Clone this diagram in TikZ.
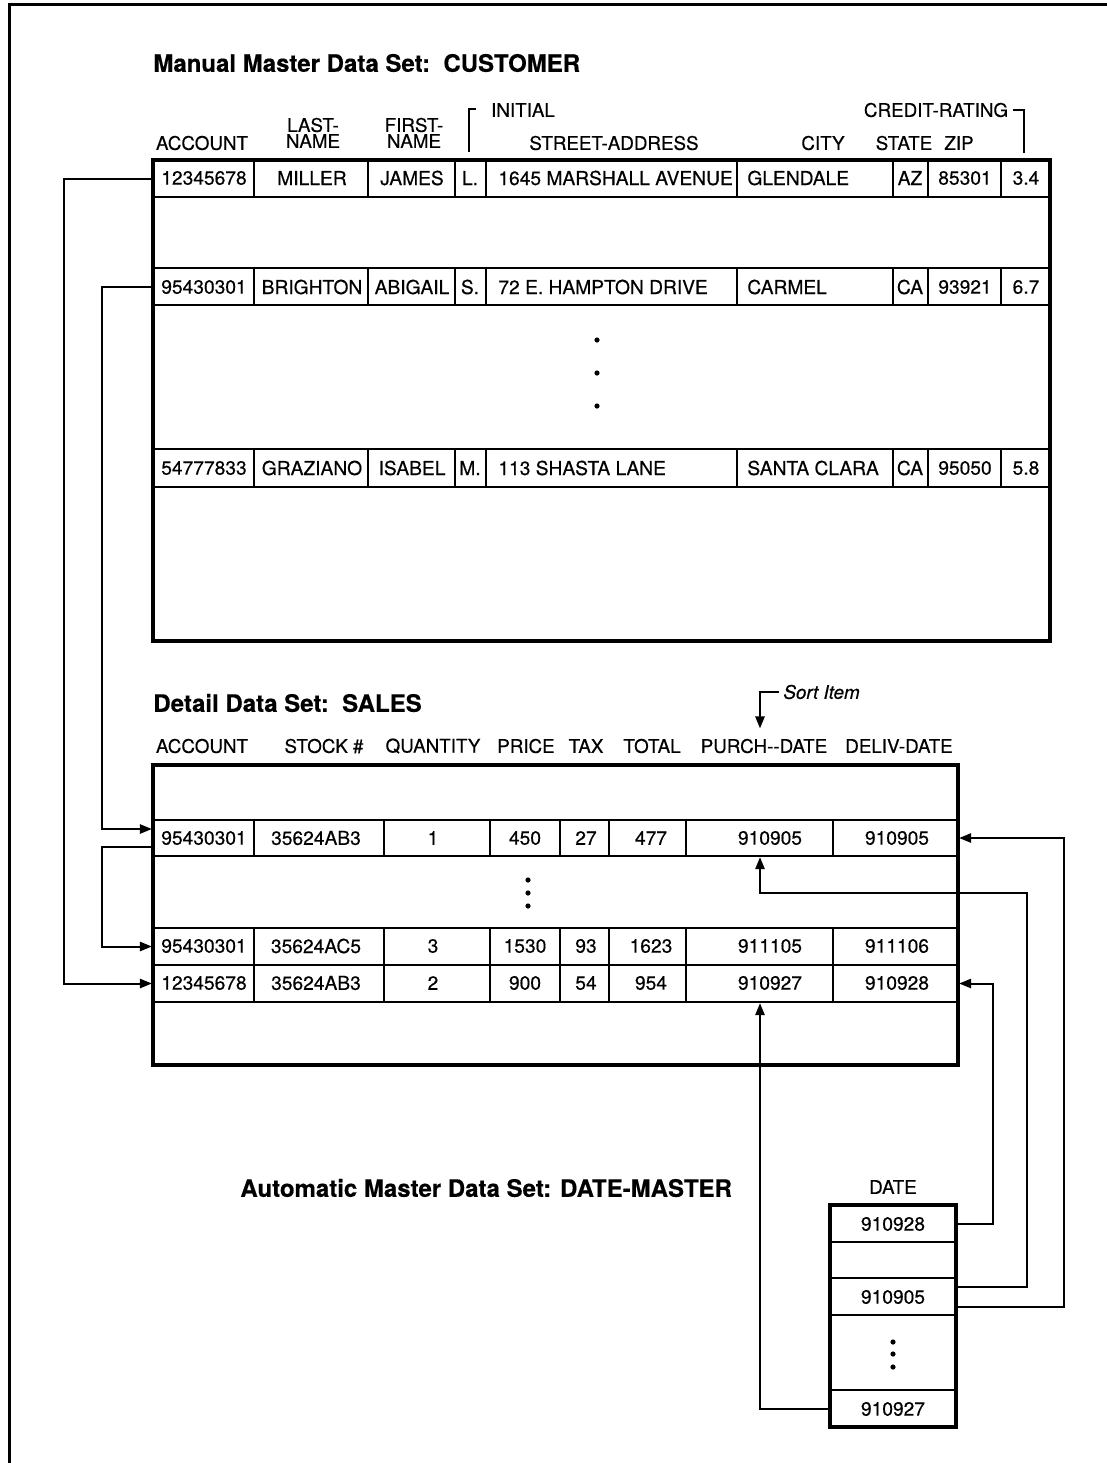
\documentclass[tikz,border=0pt]{standalone}
\usepackage{fontspec}
\setmainfont{TeX Gyre Heros}[FakeBold=0.4]
\usetikzlibrary{arrows.meta,fit}

\tikzset{
  title/.style={anchor=west,inner sep=0pt,font=\fontsize{12}{14}\selectfont\bfseries},
  head/.style={inner sep=0pt,font=\fontsize{9.4}{11}\selectfont},
  cell/.style={inner sep=0pt,font=\fontsize{9.6}{11}\selectfont},
  outer/.style={draw,line width=1.6pt,inner sep=0pt},
  rowbox/.style={draw,line width=1.1pt,inner sep=0pt},
  rule/.style={line width=1.1pt},
  link/.style={line width=1pt},
  tip/.style={-{Triangle[length=6pt,width=4.6pt]}},
}

\begin{document}
\begin{tikzpicture}[x=0.5pt,y=-0.5pt]
\useasboundingbox (0,0) rectangle (1107,1463);
\draw[line width=1.5pt] (9,1463) -- (9,4.5) -- (1107,4.5);

% CUSTOMER
\node[title] (t1) at (153,63) {Manual Master Data Set:\ \ CUSTOMER};
\node[head] (hacc) at (202,143) {ACCOUNT};
\node[head] (hlast) at (313,125) {LAST-};
\node[head] (hlastb) at (313,141) {NAME};
\node[head] (hfirst) at (414,125) {FIRST-};
\node[head] (hfirstb) at (414,141) {NAME};
\node[head] (hini) at (523,110) {INITIAL};
\node[head] (hstreet) at (614,143) {STREET-ADDRESS};
\node[head] (hcity) at (823,143) {CITY};
\node[head] (hstate) at (904,143) {STATE};
\node[head] (hzip) at (959,143) {ZIP};
\node[head] (hrate) at (936,110) {CREDIT-RATING};
\draw[line width=1.2pt] (476,109) -- (469,109) -- (469,152);
\draw[line width=1.2pt] (1013,110) -- (1024,110) -- (1024,153);

\node[outer, fit={(153,160) (1050,641)}] (cust) {};
\node[rowbox, fit={(153,160) (1050,197)}] (cr1) {};
\node[rowbox, fit={(153,268) (1050,305)}] (cr2) {};
\node[rowbox, fit={(153,449) (1050,487)}] (cr3) {};
\foreach \t/\b in {160/197,268/305,449/487}
  \foreach \x in {254,368,455,486,737,893,928,1001}
    \draw[rule] (\x,\t) -- (\x,\b);
\foreach \y/\n/\a/\b/\c/\d/\e/\f/\g/\h/\k in {178/1/12345678/MILLER/JAMES/L./1645 MARSHALL AVENUE/GLENDALE/AZ/85301/3.4,
    287/2/95430301/BRIGHTON/ABIGAIL/S./72 E. HAMPTON DRIVE/CARMEL/CA/93921/6.7,
    468/3/54777833/GRAZIANO/ISABEL/M./113 SHASTA LANE/SANTA CLARA/CA/95050/5.8} {
  \node[cell] (acc\n) at (204,\y) {\a};
  \node[cell] (last\n) at (312,\y) {\b};
  \node[cell] (first\n) at (412,\y) {\c};
  \node[cell] (ini\n) at (470,\y) {\d};
  \node[cell,anchor=west] (street\n) at (498,\y) {\e};
  \node[cell,anchor=west] (city\n) at (747,\y) {\f};
  \node[cell] (state\n) at (910,\y) {\g};
  \node[cell] (zip\n) at (965,\y) {\h};
  \node[cell] (rate\n) at (1026,\y) {\k};
}
\foreach \y in {340,373,406} \fill (597,\y) circle[radius=1.3pt];

% SALES
\node[title] (t2) at (153,703) {Detail Data Set:\ \ SALES};
\node[head,anchor=west,font=\fontsize{9.4}{11}\selectfont\itshape] (sort) at (783,692) {Sort Item};
\foreach \x/\t/\n in {202/ACCOUNT/acc,324/STOCK~\#/stock,433/QUANTITY/qty,526/PRICE/price,
    586/TAX/tax,652/TOTAL/total,764/PURCH{-}{-}DATE/purch,899/DELIV-DATE/deliv}
  \node[head] (h\n) at (\x,746) {\t};
\coordinate (pcol) at (760,0);
\draw[link,tip,shorten >=5pt] ([xshift=-2pt]sort.west) -| (pcol |- hpurch.north);

\node[outer, fit={(153,765) (958,1065)}] (sales) {};
\node[rowbox, fit={(153,820) (958,856)}] (sr1) {};
\node[rowbox, fit={(153,928) (958,965)}] (sr2) {};
\node[rowbox, fit={(153,965) (958,1002)}] (sr3) {};
\foreach \t/\b in {820/856,928/965,965/1002}
  \foreach \x in {254,384,490,560,609,686,833}
    \draw[rule] (\x,\t) -- (\x,\b);
\foreach \y/\n/\a/\b/\c/\d/\e/\f/\g/\h in {838/1/95430301/35624AB3/1/450/27/477/910905/910905,
    946/2/95430301/35624AC5/3/1530/93/1623/911105/911106,
    983/3/12345678/35624AB3/2/900/54/954/910927/910928} {
  \node[cell] (sacc\n) at (204,\y) {\a};
  \node[cell] (stock\n) at (316,\y) {\b};
  \node[cell] (qty\n) at (433,\y) {\c};
  \node[cell] (price\n) at (525,\y) {\d};
  \node[cell] (tax\n) at (586,\y) {\e};
  \node[cell] (total\n) at (651,\y) {\f};
  \node[cell] (pd\n) at (770,\y) {\g};
  \node[cell] (dd\n) at (897,\y) {\h};
}
\foreach \y in {880,893,906} \fill (528,\y) circle[radius=1.3pt];

% DATE-MASTER
\node[title] (t3) at (240,1188) {Automatic Master Data Set: DATE-MASTER};
\node[head] (hdate) at (893,1187) {DATE};
\node[outer, fit={(830,1205) (956,1427)}] (dates) {};
\foreach \t/\b/\n in {1205/1242/1,1242/1278/2,1278/1315/3,1315/1390/4,1390/1427/5}
  \node[rowbox, fit={(830,\t) (956,\b)}] (dr\n) {};
\node[cell] (dv1) at (893,1224) {910928};
\node[cell] (dv3) at (893,1297) {910905};
\node[cell] (dv5) at (893,1409) {910927};
\foreach \y in {1342,1354,1367} \fill (893,\y) circle[radius=1.3pt];

% links
\draw[link,tip] (cr1.west) -- ++(-88,0) |- (sr3.west);
\draw[link,tip] (cr2.west) -- ++(-50,0) |- ([yshift=4.5pt]sr1.west);
\draw[link,tip] ([yshift=-4.5pt]sr1.west) -- ++(-50,0) |- (sr2.west);
\draw[link,tip] ([yshift=-5pt]dr3.east) -- ++(107,0) |- (sr1.east);
\coordinate (bend) at (1027,893);
\draw[link,tip] ([yshift=5pt]dr3.east) -| (bend) -| (pcol |- sr1.south);
\draw[link,tip] (dr1.east) -- ++(36,0) |- (sr3.east);
\draw[link,tip] (dr5.west) -| (pcol |- sr3.south);
\end{tikzpicture}
\end{document}
